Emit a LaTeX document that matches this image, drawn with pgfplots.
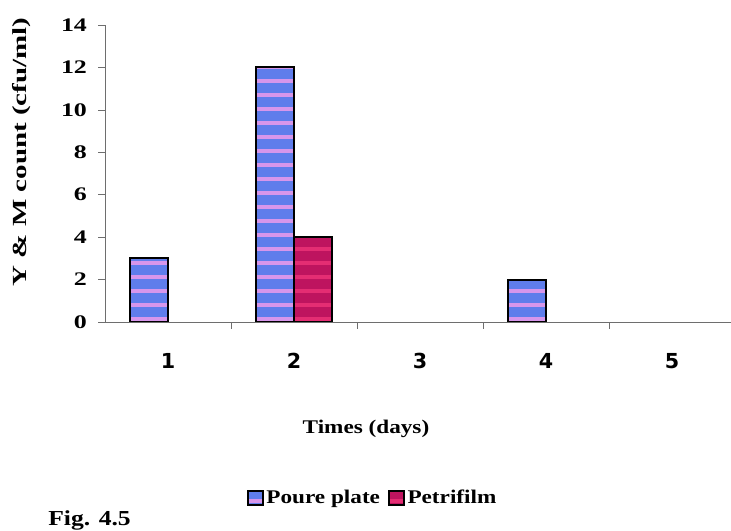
\documentclass[border=0pt]{standalone}
\usepackage{fontspec}
\setmainfont{Liberation Serif}[FakeStretch=1.2]
\newfontfamily\tickfont{Liberation Serif}[FakeStretch=1.35]
\newfontfamily\ylabfont{Liberation Serif}[FakeStretch=1.45]
\newfontfamily\catfont{DejaVu Sans}
\usepackage{pgfplots}
\pgfplotsset{compat=1.18}
\usetikzlibrary{patterns}
\definecolor{poure}{RGB}{95,125,235}
\definecolor{pourestripe}{RGB}{215,150,235}
\definecolor{petri}{RGB}{190,20,95}
\definecolor{petristripe}{RGB}{228,45,115}
\definecolor{axgray}{RGB}{110,110,110}
\pgfdeclarepatternformonly{hstripes}{\pgfqpoint{-1pt}{-1pt}}{\pgfqpoint{3pt}{11pt}}{\pgfqpoint{2pt}{10.5pt}}{%
  \pgfpathrectangle{\pgfqpoint{-0.5pt}{0pt}}{\pgfqpoint{3pt}{3pt}}\pgfusepath{fill}}
\begin{document}
\begin{tikzpicture}
\useasboundingbox (0,0) rectangle (548.25pt,398.25pt);
\begin{axis}[
  at={(78.75pt,156.75pt)}, anchor=south west,
  scale only axis, width=472.5pt, height=222.75pt,
  xmin=0.5, xmax=5.5, ymin=0, ymax=14,
  enlargelimits=false,
  axis lines*=left,
  axis line style={axgray, line width=0.5pt},
  tick style={axgray, line width=0.5pt},
  major tick length=5pt,
  ytick={0,2,...,14},
  ytick align=outside,
  yticklabel style={font=\tickfont\bfseries\fontsize{14.4}{16}\selectfont, xshift=-5pt,
    /pgf/number format/assume math mode=true},
  xtick={1.5,2.5,3.5,4.5},
  xticklabels={},
  xtick align=outside,
  extra x ticks={1,2,3,4,5},
  extra x tick labels={1,2,3,4,5},
  extra x tick style={major tick length=0pt,
    tick label style={font=\catfont\bfseries\fontsize{15.5}{17}\selectfont, yshift=-20pt,
    /pgf/number format/assume math mode=true}},
  unbounded coords=discard,
  legend columns=2,
  legend style={at={(0.4254,-0.5926)}, anchor=center, draw=none, fill=none,
    font=\bfseries\fontsize{14.5}{16}\selectfont,
    /tikz/every even column/.append style={column sep=4pt}},
  legend image code/.code={\draw[#1] (0pt,-5.5pt) rectangle (11pt,5.5pt);},
]
\addplot[ybar, bar width=0.3, bar shift=-0.15, draw=black, line width=1.6pt,
  fill=poure, postaction={pattern=hstripes, pattern color=pourestripe},
  y filter/.expression={y==0 ? nan : y}]
  coordinates {(1,3) (2,12) (3,0) (4,2) (5,0)};
\addlegendentry{Poure plate}
\addplot[ybar, bar width=0.3, bar shift=0.15, draw=black, line width=1.6pt,
  fill=petri, postaction={pattern=hstripes, pattern color=petristripe},
  y filter/.expression={y==0 ? nan : y}]
  coordinates {(1,0) (2,4) (3,0) (4,0) (5,0)};
\addlegendentry{Petrifilm}
\end{axis}
\node[rotate=90, anchor=base, font=\ylabfont\bfseries\fontsize{15}{17}\selectfont] at (20.25pt,284.25pt) {Y \& M count (cfu/ml)};
\node[anchor=center, font=\bfseries\fontsize{14.5}{16}\selectfont] at (274.5pt,76.5pt) {Times (days)};
\node[anchor=base west, inner sep=0pt, font=\bfseries\fontsize{16}{18}\selectfont] at (36pt,4pt) {Fig. 4.5};
\end{tikzpicture}
\end{document}
